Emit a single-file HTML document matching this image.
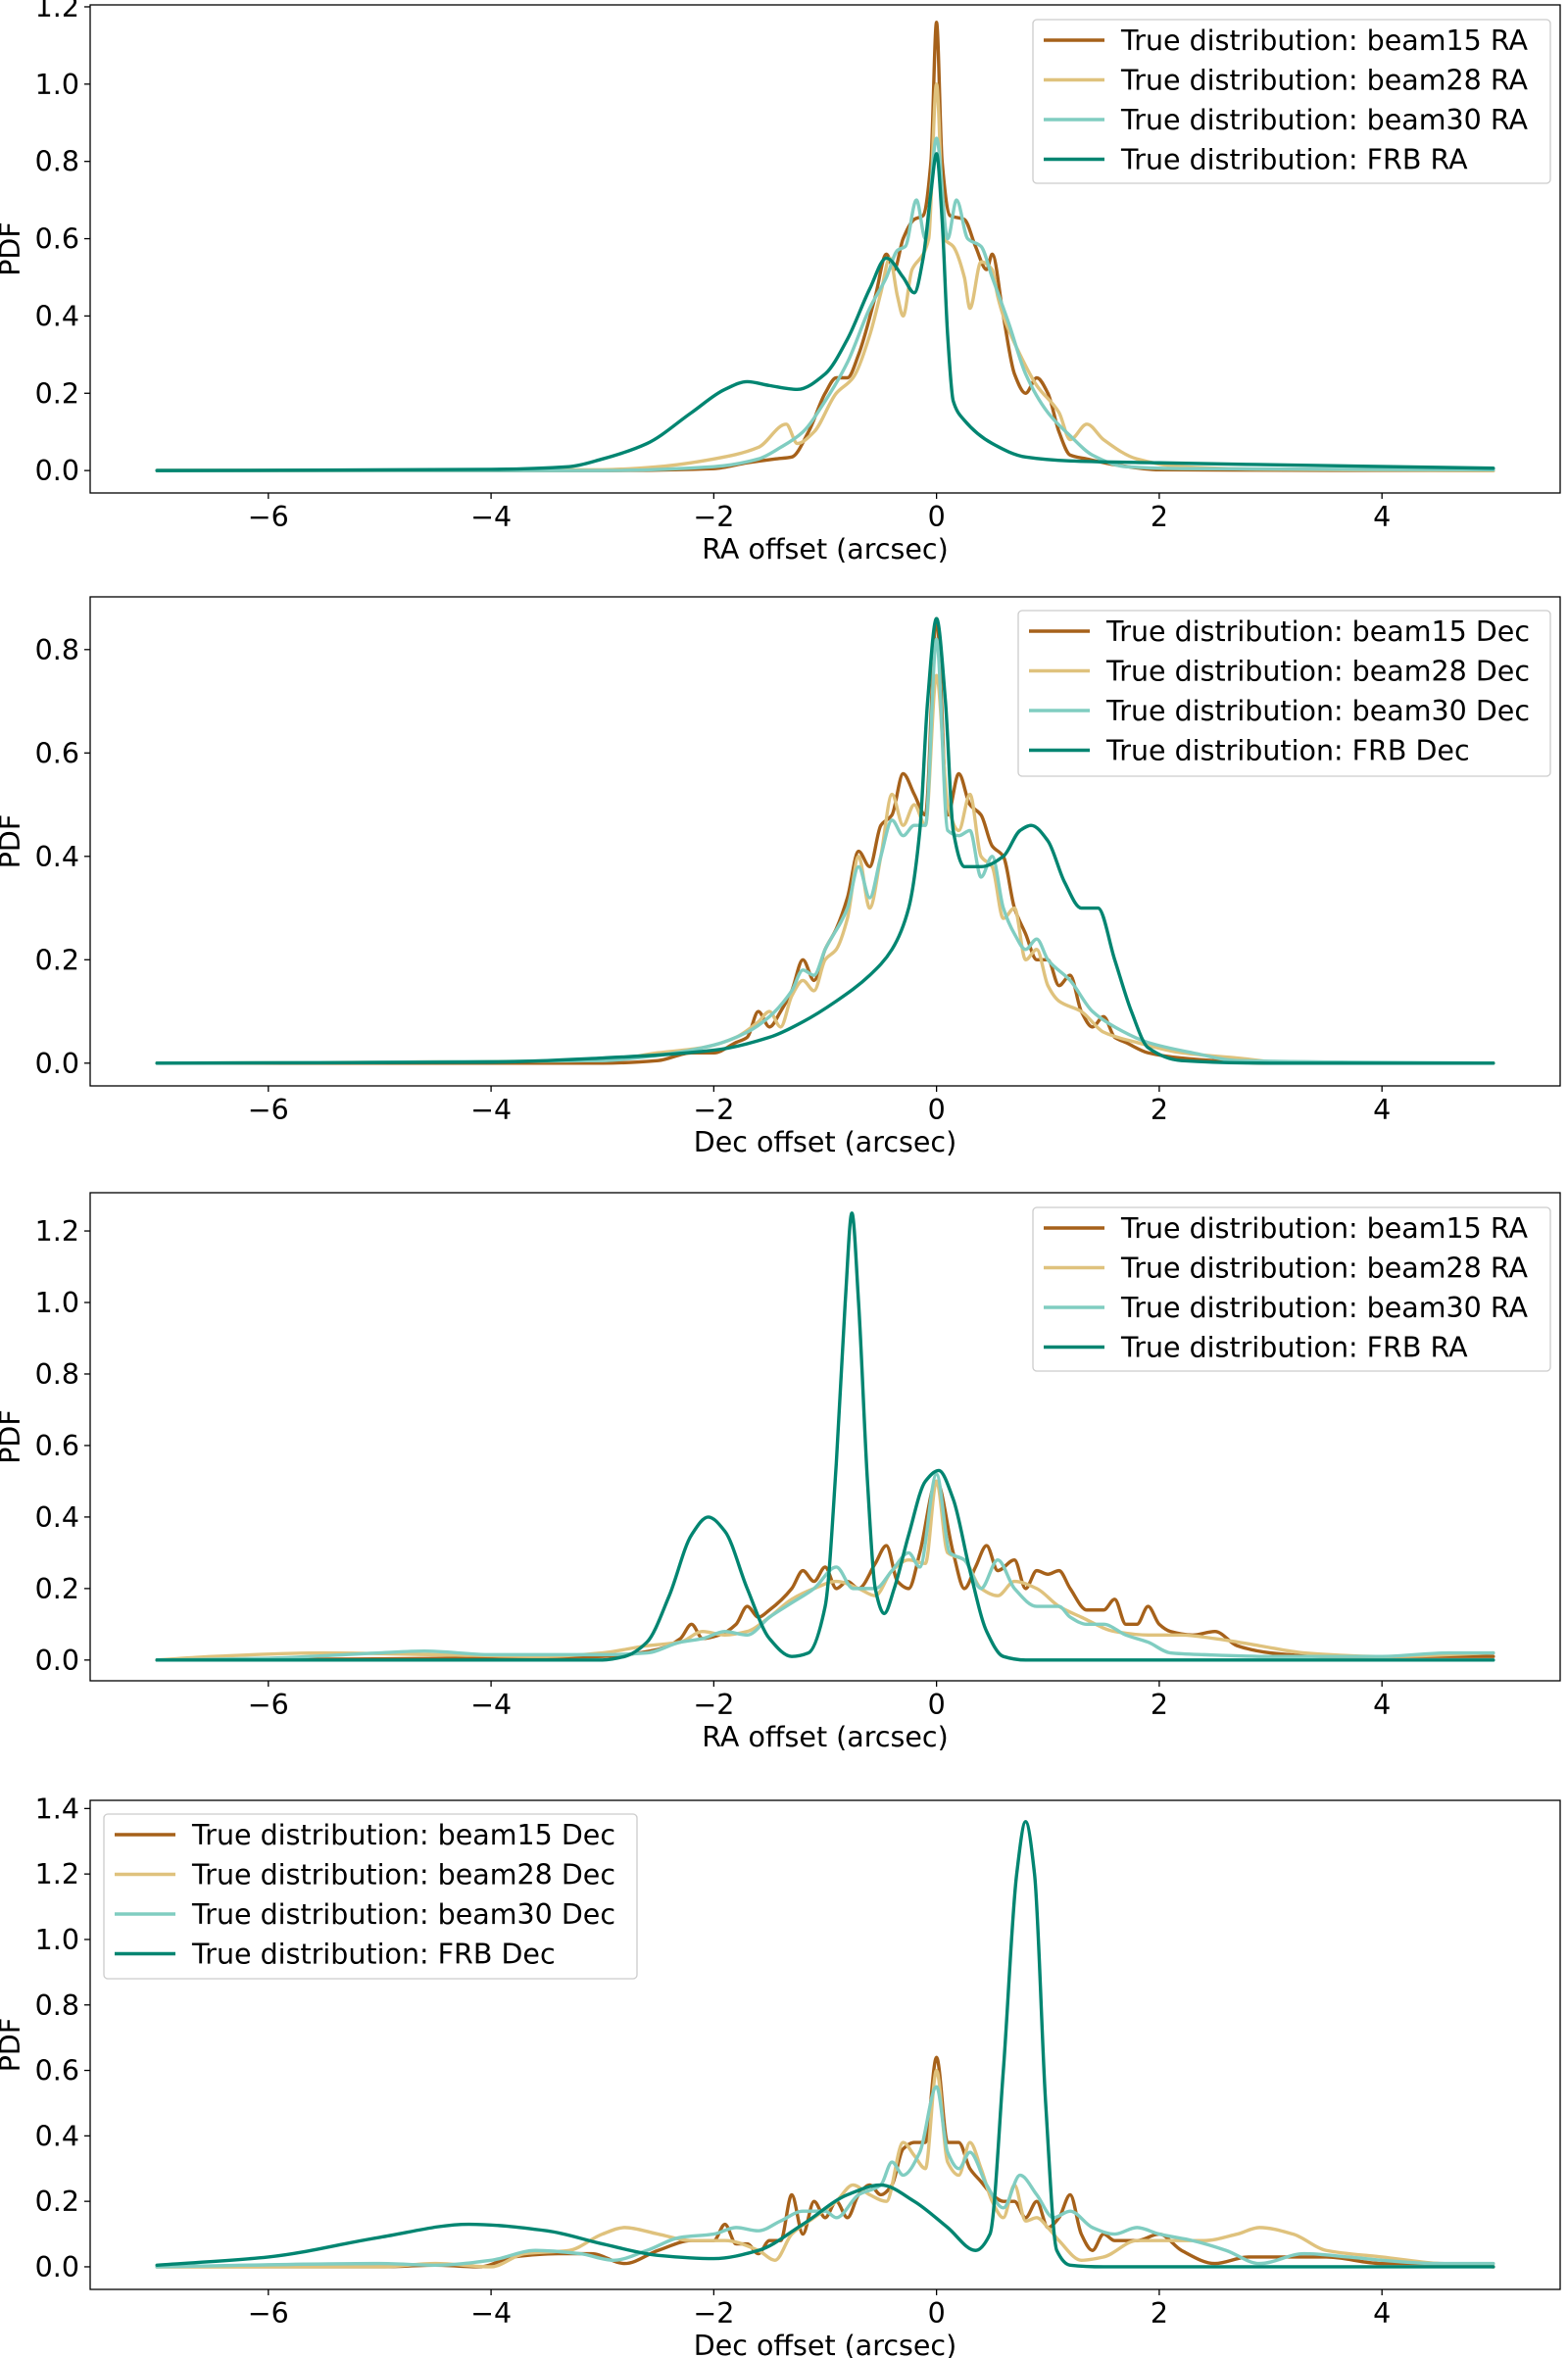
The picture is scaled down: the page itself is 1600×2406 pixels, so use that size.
<!DOCTYPE html>
<html><head><meta charset="utf-8">
<style>
html,body{margin:0;padding:0;background:#fff;}
svg{display:block;font-family:"DejaVu Sans","Liberation Sans",sans-serif;}
</style></head>
<body>
<svg id="chart" width="1600" height="2406" viewBox="0 0 1600 2406" xmlns="http://www.w3.org/2000/svg"></svg>
<script>
// ---- data ----
const xTicks = [-6,-4,-2,0,2,4];
const seriesNames = ["beam15","beam28","beam30","FRB"];
const seriesColors = ["#a6611a","#dfc27d","#80cdc1","#018571"];

// Panel 1: RA
const p1_b15_x = [-7,-3,-2,-1.7,-1.45,-1.3,-1.15,-1,-0.9,-0.8,-0.7,-0.55,-0.45,-0.38,-0.3,-0.2,-0.12,-0.05,0,0.05,0.12,0.25,0.35,0.45,0.5,0.6,0.7,0.8,0.9,1.0,1.1,1.2,1.35,1.6,2,5];
const p1_b15_y = [0,0,0.005,0.02,0.03,0.035,0.1,0.2,0.24,0.24,0.3,0.45,0.56,0.52,0.6,0.65,0.66,0.8,1.16,0.8,0.66,0.65,0.58,0.52,0.56,0.4,0.25,0.2,0.24,0.2,0.1,0.04,0.03,0.015,0.002,0];
const p1_b28_x = [-7,-3,-2.5,-2,-1.6,-1.35,-1.25,-1.1,-0.9,-0.75,-0.6,-0.5,-0.42,-0.35,-0.3,-0.22,-0.12,-0.07,0,0.07,0.15,0.25,0.3,0.4,0.5,0.55,0.6,0.75,0.9,1.1,1.2,1.35,1.5,1.8,2.2,3,5];
const p1_b28_y = [0,0.002,0.01,0.03,0.06,0.12,0.07,0.1,0.2,0.24,0.35,0.46,0.55,0.45,0.4,0.52,0.56,0.6,1.0,0.6,0.58,0.5,0.42,0.54,0.52,0.45,0.4,0.3,0.22,0.15,0.08,0.12,0.08,0.03,0.01,0.003,0];
const p1_b30_x = [-7,-3,-2,-1.6,-1.4,-1.2,-1,-0.8,-0.6,-0.45,-0.35,-0.28,-0.18,-0.1,0,0.1,0.18,0.28,0.4,0.5,0.65,0.8,1,1.2,1.4,1.7,2.2,5];
const p1_b30_y = [0,0,0.01,0.03,0.06,0.1,0.18,0.28,0.42,0.5,0.57,0.58,0.7,0.6,0.86,0.6,0.7,0.6,0.58,0.5,0.38,0.25,0.15,0.09,0.04,0.01,0.005,0.002];
const p1_frb_x = [-7,-4,-3.3,-3,-2.6,-2.2,-1.9,-1.7,-1.5,-1.25,-1,-0.8,-0.6,-0.45,-0.3,-0.2,-0.12,-0.05,0,0.05,0.1,0.15,0.25,0.5,0.8,1.2,2,3,5];
const p1_frb_y = [0,0.003,0.01,0.03,0.07,0.15,0.21,0.23,0.22,0.21,0.25,0.34,0.47,0.55,0.5,0.46,0.55,0.72,0.82,0.65,0.35,0.18,0.13,0.07,0.035,0.025,0.02,0.015,0.006];

// Panel 2: Dec
const p2_b15_x = [-7,-3,-2.5,-2.2,-2,-1.8,-1.7,-1.6,-1.5,-1.4,-1.3,-1.2,-1.1,-1.0,-0.9,-0.8,-0.7,-0.6,-0.5,-0.4,-0.3,-0.2,-0.1,0,0.1,0.2,0.3,0.4,0.5,0.6,0.7,0.8,0.9,1.0,1.1,1.2,1.3,1.4,1.5,1.6,1.7,1.9,2.2,3,5];
const p2_b15_y = [0,0,0.005,0.02,0.02,0.04,0.05,0.1,0.07,0.1,0.14,0.2,0.16,0.22,0.26,0.32,0.41,0.38,0.46,0.48,0.56,0.52,0.48,0.86,0.48,0.56,0.5,0.48,0.42,0.4,0.3,0.25,0.2,0.2,0.15,0.17,0.1,0.07,0.09,0.05,0.04,0.02,0.01,0,0];
const p2_b28_x = [-7,-3,-2.5,-2.1,-1.8,-1.6,-1.5,-1.4,-1.3,-1.2,-1.1,-1.0,-0.9,-0.8,-0.7,-0.6,-0.5,-0.4,-0.3,-0.2,-0.1,0,0.1,0.2,0.3,0.4,0.5,0.6,0.7,0.8,0.9,1.0,1.1,1.3,1.5,1.8,2.2,2.7,3.2,5];
const p2_b28_y = [0,0.005,0.02,0.03,0.05,0.08,0.1,0.07,0.13,0.16,0.14,0.2,0.22,0.28,0.4,0.3,0.4,0.52,0.46,0.5,0.46,0.75,0.5,0.45,0.52,0.4,0.38,0.28,0.3,0.2,0.22,0.15,0.12,0.1,0.06,0.04,0.02,0.01,0,0];
const p2_b30_x = [-7,-3,-2.5,-2,-1.7,-1.5,-1.3,-1.2,-1.1,-1.0,-0.8,-0.7,-0.6,-0.5,-0.4,-0.3,-0.2,-0.1,0,0.1,0.2,0.3,0.4,0.5,0.6,0.7,0.8,0.9,1.0,1.2,1.4,1.6,1.9,2.3,2.7,5];
const p2_b30_y = [0,0.005,0.015,0.035,0.06,0.09,0.14,0.18,0.17,0.22,0.3,0.38,0.32,0.4,0.47,0.44,0.46,0.46,0.82,0.45,0.44,0.45,0.36,0.4,0.3,0.25,0.22,0.24,0.2,0.16,0.1,0.07,0.04,0.02,0.005,0];
const p2_frb_x = [-7,-4,-3,-2,-1.5,-1.2,-0.9,-0.6,-0.4,-0.25,-0.15,-0.08,0,0.08,0.15,0.25,0.4,0.6,0.75,0.85,1.0,1.15,1.3,1.45,1.6,1.75,1.9,2.2,3,5];
const p2_frb_y = [0,0.002,0.01,0.025,0.05,0.08,0.12,0.17,0.22,0.3,0.45,0.7,0.86,0.7,0.45,0.38,0.38,0.4,0.45,0.46,0.43,0.35,0.3,0.3,0.2,0.1,0.03,0.005,0,0];

// Panel 3: RA
const p3_b15_x = [-7,-3,-2.5,-2.3,-2.2,-2.1,-1.95,-1.8,-1.7,-1.6,-1.5,-1.3,-1.2,-1.1,-1.0,-0.9,-0.8,-0.7,-0.55,-0.45,-0.35,-0.25,-0.15,0,0.15,0.25,0.35,0.45,0.55,0.7,0.8,0.9,1.0,1.1,1.2,1.35,1.5,1.6,1.7,1.8,1.9,2.0,2.1,2.3,2.5,2.7,3,3.5,5];
const p3_b15_y = [0,0.01,0.03,0.06,0.1,0.06,0.07,0.1,0.15,0.12,0.14,0.2,0.25,0.22,0.26,0.2,0.22,0.2,0.27,0.32,0.22,0.2,0.3,0.5,0.3,0.2,0.26,0.32,0.25,0.28,0.2,0.25,0.24,0.25,0.2,0.14,0.14,0.17,0.1,0.1,0.15,0.1,0.08,0.07,0.08,0.04,0.02,0.01,0.01];
const p3_b28_x = [-7,-6.5,-5.5,-4.5,-3.5,-3,-2.6,-2.3,-2.1,-1.9,-1.7,-1.5,-1.3,-1.1,-0.9,-0.7,-0.55,-0.4,-0.25,-0.1,0,0.1,0.25,0.4,0.55,0.7,0.9,1.1,1.3,1.6,1.9,2.2,2.5,2.9,3.3,4,5];
const p3_b28_y = [0,0.01,0.02,0.015,0.01,0.02,0.04,0.05,0.08,0.07,0.08,0.12,0.17,0.2,0.22,0.2,0.18,0.25,0.28,0.27,0.5,0.3,0.28,0.2,0.18,0.22,0.2,0.15,0.12,0.08,0.07,0.07,0.06,0.04,0.02,0.01,0.02];
const p3_b30_x = [-7,-6,-5,-4.6,-4,-3,-2.6,-2.3,-2.1,-1.9,-1.7,-1.5,-1.3,-1.1,-0.9,-0.75,-0.55,-0.4,-0.25,-0.15,0,0.12,0.25,0.4,0.55,0.7,0.9,1.1,1.2,1.35,1.5,1.7,1.9,2.1,2.4,3,4,4.6,5];
const p3_b30_y = [0,0.005,0.02,0.025,0.015,0.015,0.02,0.05,0.06,0.08,0.07,0.12,0.16,0.2,0.26,0.2,0.2,0.25,0.3,0.26,0.52,0.3,0.28,0.2,0.28,0.2,0.15,0.15,0.12,0.1,0.1,0.07,0.05,0.02,0.015,0.01,0.01,0.02,0.02];
const p3_frb_x = [-7,-3,-2.8,-2.6,-2.4,-2.2,-2.05,-1.9,-1.7,-1.5,-1.3,-1.15,-1.0,-0.9,-0.82,-0.76,-0.7,-0.62,-0.55,-0.47,-0.38,-0.25,-0.1,0.02,0.15,0.3,0.45,0.6,0.8,5];
const p3_frb_y = [0,0,0.01,0.05,0.18,0.35,0.4,0.36,0.2,0.06,0.01,0.02,0.15,0.55,1.0,1.25,1.0,0.5,0.2,0.13,0.2,0.35,0.5,0.53,0.45,0.25,0.08,0.01,0,0];

// Panel 4: Dec
const p4_b15_x = [-7,-5,-4.5,-4.1,-3.8,-3.4,-3.1,-2.8,-2.5,-2.2,-2,-1.9,-1.8,-1.7,-1.6,-1.5,-1.4,-1.3,-1.2,-1.1,-1.0,-0.9,-0.8,-0.7,-0.6,-0.5,-0.4,-0.3,-0.2,-0.1,0,0.1,0.2,0.3,0.4,0.5,0.6,0.7,0.8,0.9,1.0,1.1,1.2,1.3,1.4,1.5,1.6,1.8,2.0,2.2,2.5,2.8,3.1,3.5,4,4.5,5];
const p4_b15_y = [0,0,0.005,0,0.03,0.04,0.04,0.01,0.05,0.08,0.08,0.13,0.07,0.07,0.04,0.08,0.08,0.22,0.1,0.2,0.15,0.2,0.15,0.22,0.25,0.22,0.25,0.36,0.38,0.38,0.64,0.38,0.38,0.3,0.26,0.22,0.2,0.2,0.15,0.2,0.12,0.15,0.22,0.1,0.05,0.1,0.08,0.08,0.1,0.05,0.01,0.03,0.03,0.03,0.01,0.01,0];
const p4_b28_x = [-7,-5,-4.5,-4,-3.7,-3.3,-3,-2.8,-2.5,-2.2,-1.9,-1.6,-1.45,-1.3,-1.1,-0.9,-0.75,-0.6,-0.45,-0.3,-0.2,-0.1,0,0.1,0.2,0.3,0.4,0.5,0.6,0.7,0.8,0.9,1.0,1.1,1.3,1.5,1.8,2.1,2.4,2.7,2.9,3.2,3.5,4,4.5,5];
const p4_b28_y = [0,0,0.01,0,0.04,0.05,0.1,0.12,0.1,0.08,0.08,0.05,0.02,0.1,0.15,0.2,0.25,0.22,0.2,0.38,0.34,0.3,0.6,0.32,0.28,0.38,0.3,0.2,0.15,0.25,0.14,0.15,0.12,0.08,0.02,0.03,0.08,0.08,0.08,0.1,0.12,0.1,0.05,0.03,0.01,0];
const p4_b30_x = [-7,-5,-4.5,-4,-3.6,-3.2,-2.9,-2.6,-2.3,-2,-1.8,-1.6,-1.4,-1.2,-1.0,-0.9,-0.7,-0.5,-0.4,-0.3,-0.15,0,0.1,0.2,0.3,0.45,0.6,0.75,0.9,1.05,1.2,1.4,1.6,1.8,2.0,2.3,2.6,2.9,3.3,3.7,4,4.5,5];
const p4_b30_y = [0,0.01,0.005,0.02,0.05,0.04,0.02,0.05,0.09,0.1,0.12,0.11,0.14,0.17,0.17,0.15,0.22,0.25,0.32,0.28,0.35,0.55,0.35,0.3,0.35,0.25,0.18,0.28,0.22,0.15,0.17,0.12,0.1,0.12,0.1,0.08,0.05,0.01,0.04,0.03,0.02,0.01,0.01];
const p4_frb_x = [-7,-6,-5,-4.2,-3.5,-3,-2.5,-2,-1.6,-1.2,-0.8,-0.5,-0.2,0.1,0.35,0.48,0.6,0.72,0.8,0.88,0.98,1.08,1.2,1.5,5];
const p4_frb_y = [0.005,0.03,0.09,0.13,0.11,0.07,0.035,0.025,0.05,0.13,0.22,0.25,0.2,0.12,0.05,0.1,0.6,1.2,1.36,1.2,0.5,0.05,0.005,0,0];

const panelYTicks = [
  [0,0.2,0.4,0.6,0.8,1.0,1.2],
  [0,0.2,0.4,0.6,0.8],
  [0,0.2,0.4,0.6,0.8,1.0,1.2],
  [0,0.2,0.4,0.6,0.8,1.0,1.2,1.4]
];
const panelXLabels = ["RA offset (arcsec)","Dec offset (arcsec)","RA offset (arcsec)","Dec offset (arcsec)"];
const panelSuffix = ["RA","Dec","RA","Dec"];

// ---- layout ----
const NS = "http://www.w3.org/2000/svg";
const svg = document.getElementById('chart');
const L = 92, R = 1592, XMIN = -7.6, XMAX = 5.6;
const FS = 28.5;
const panels = [
  {top:5, bottom:503, ymin:-0.058, ymax:1.205, leg:{x:1054,y:20,w:528,h:167}, series:[[p1_b15_x,p1_b15_y],[p1_b28_x,p1_b28_y],[p1_b30_x,p1_b30_y],[p1_frb_x,p1_frb_y]]},
  {top:609, bottom:1108, ymin:-0.044, ymax:0.902, leg:{x:1039,y:623,w:543,h:169}, series:[[p2_b15_x,p2_b15_y],[p2_b28_x,p2_b28_y],[p2_b30_x,p2_b30_y],[p2_frb_x,p2_frb_y]]},
  {top:1217, bottom:1715, ymin:-0.058, ymax:1.307, leg:{x:1054,y:1232,w:528,h:167}, series:[[p3_b15_x,p3_b15_y],[p3_b28_x,p3_b28_y],[p3_b30_x,p3_b30_y],[p3_frb_x,p3_frb_y]]},
  {top:1837, bottom:2336, ymin:-0.069, ymax:1.425, leg:{x:106,y:1851,w:544,h:168}, series:[[p4_b15_x,p4_b15_y],[p4_b28_x,p4_b28_y],[p4_b30_x,p4_b30_y],[p4_frb_x,p4_frb_y]]}
];

function mk(tag, attrs, parent){
  const e = document.createElementNS(NS, tag);
  for (const k in attrs) e.setAttribute(k, attrs[k]);
  (parent||svg).appendChild(e);
  return e;
}
function xScale(v){ return L + (v - XMIN) / (XMAX - XMIN) * (R - L); }

// monotone cubic (Fritsch-Carlson) path in pixel space; x is strictly increasing
function smoothPath(pts){
  const n = pts.length;
  const d = [], m = new Array(n);
  for (let i = 0; i < n-1; i++) d.push((pts[i+1][1]-pts[i][1])/(pts[i+1][0]-pts[i][0]));
  m[0] = d[0]; m[n-1] = d[n-2];
  for (let i = 1; i < n-1; i++){
    if (d[i-1]*d[i] <= 0) m[i] = 0;
    else {
      const h0 = pts[i][0]-pts[i-1][0], h1 = pts[i+1][0]-pts[i][0];
      const w1 = 2*h1 + h0, w2 = h1 + 2*h0;
      m[i] = (w1+w2) / (w1/d[i-1] + w2/d[i]);
    }
  }
  let s = "M" + pts[0][0].toFixed(2) + "," + pts[0][1].toFixed(2);
  for (let i = 0; i < n-1; i++){
    const h = pts[i+1][0]-pts[i][0];
    s += " C" + (pts[i][0]+h/3).toFixed(2) + "," + (pts[i][1]+m[i]*h/3).toFixed(2) + " " +
         (pts[i+1][0]-h/3).toFixed(2) + "," + (pts[i+1][1]-m[i+1]*h/3).toFixed(2) + " " +
         pts[i+1][0].toFixed(2) + "," + pts[i+1][1].toFixed(2);
  }
  return s;
}

panels.forEach((P, pi) => {
  const yScale = v => P.bottom - (v - P.ymin) / (P.ymax - P.ymin) * (P.bottom - P.top);
  const g = mk('g', {});
  
  
  const clipId = 'clip' + pi;
  const cp = mk('clipPath', {id: clipId}, g);
  mk('rect', {x:L, y:P.top, width:R-L, height:P.bottom-P.top}, cp);

  const sg = mk('g', {'clip-path':'url(#'+clipId+')'}, g);
  P.series.forEach((s, si) => {
    const pts = s[0].map((xv, i) => [xScale(xv), yScale(s[1][i])]);
    const path = mk('path', {d: smoothPath(pts), fill:'none', stroke: seriesColors[si], 'stroke-width':3.4, 'stroke-linejoin':'round', 'stroke-linecap':'round'}, sg);
    
    
  });

  const fr = mk('rect', {x:L, y:P.top, width:R-L, height:P.bottom-P.top, fill:'none', stroke:'#000', 'stroke-width':1.3}, g);
  
  

  xTicks.forEach(t => {
    const x = xScale(t);
    mk('line', {x1:x, x2:x, y1:P.bottom, y2:P.bottom+6, stroke:'#000', 'stroke-width':1.3}, g);
    const tx = mk('text', {x:x, y:P.bottom+34, 'font-size':FS, 'text-anchor':'middle', fill:'#000'}, g);
    tx.textContent = t < 0 ? '\u2212' + Math.abs(t) : String(t);
    
    
  });
  const xl = mk('text', {x:(L+R)/2, y:P.bottom+67, 'font-size':FS, 'text-anchor':'middle', fill:'#000'}, g);
  xl.textContent = panelXLabels[pi];
  
  

  panelYTicks[pi].forEach(t => {
    const y = yScale(t);
    mk('line', {x1:L-6, x2:L, y1:y, y2:y, stroke:'#000', 'stroke-width':1.3}, g);
    const ty = mk('text', {x:L-11, y:y+10, 'font-size':FS, 'text-anchor':'end', fill:'#000'}, g);
    ty.textContent = t.toFixed(1);
    
    
  });
  const ycy = (P.top + P.bottom) / 2;
  const yl = mk('text', {x:20, y:ycy, 'font-size':FS, 'text-anchor':'middle', fill:'#000', transform:'rotate(-90 20 '+ycy+')'}, g);
  yl.textContent = 'PDF';
  
  

  const lg = mk('g', {}, g);
  
  
  mk('rect', {x:P.leg.x, y:P.leg.y, width:P.leg.w, height:P.leg.h, rx:4, fill:'#fff', 'fill-opacity':0.8, stroke:'#ccc', 'stroke-width':1.3}, lg);
  seriesNames.forEach((n, si) => {
    const ry = P.leg.y + 21 + si * 40.5;
    const lx = P.leg.x + 11;
    const entry = mk('g', {}, lg);
    
    
    mk('line', {x1:lx, x2:lx+62, y1:ry, y2:ry, stroke:seriesColors[si], 'stroke-width':3.4}, entry);
    const t = mk('text', {x:lx+79, y:ry+10, 'font-size':FS, fill:'#000'}, entry);
    t.textContent = 'True distribution: ' + n + ' ' + panelSuffix[pi];
  });
});
</script>
</body></html>
